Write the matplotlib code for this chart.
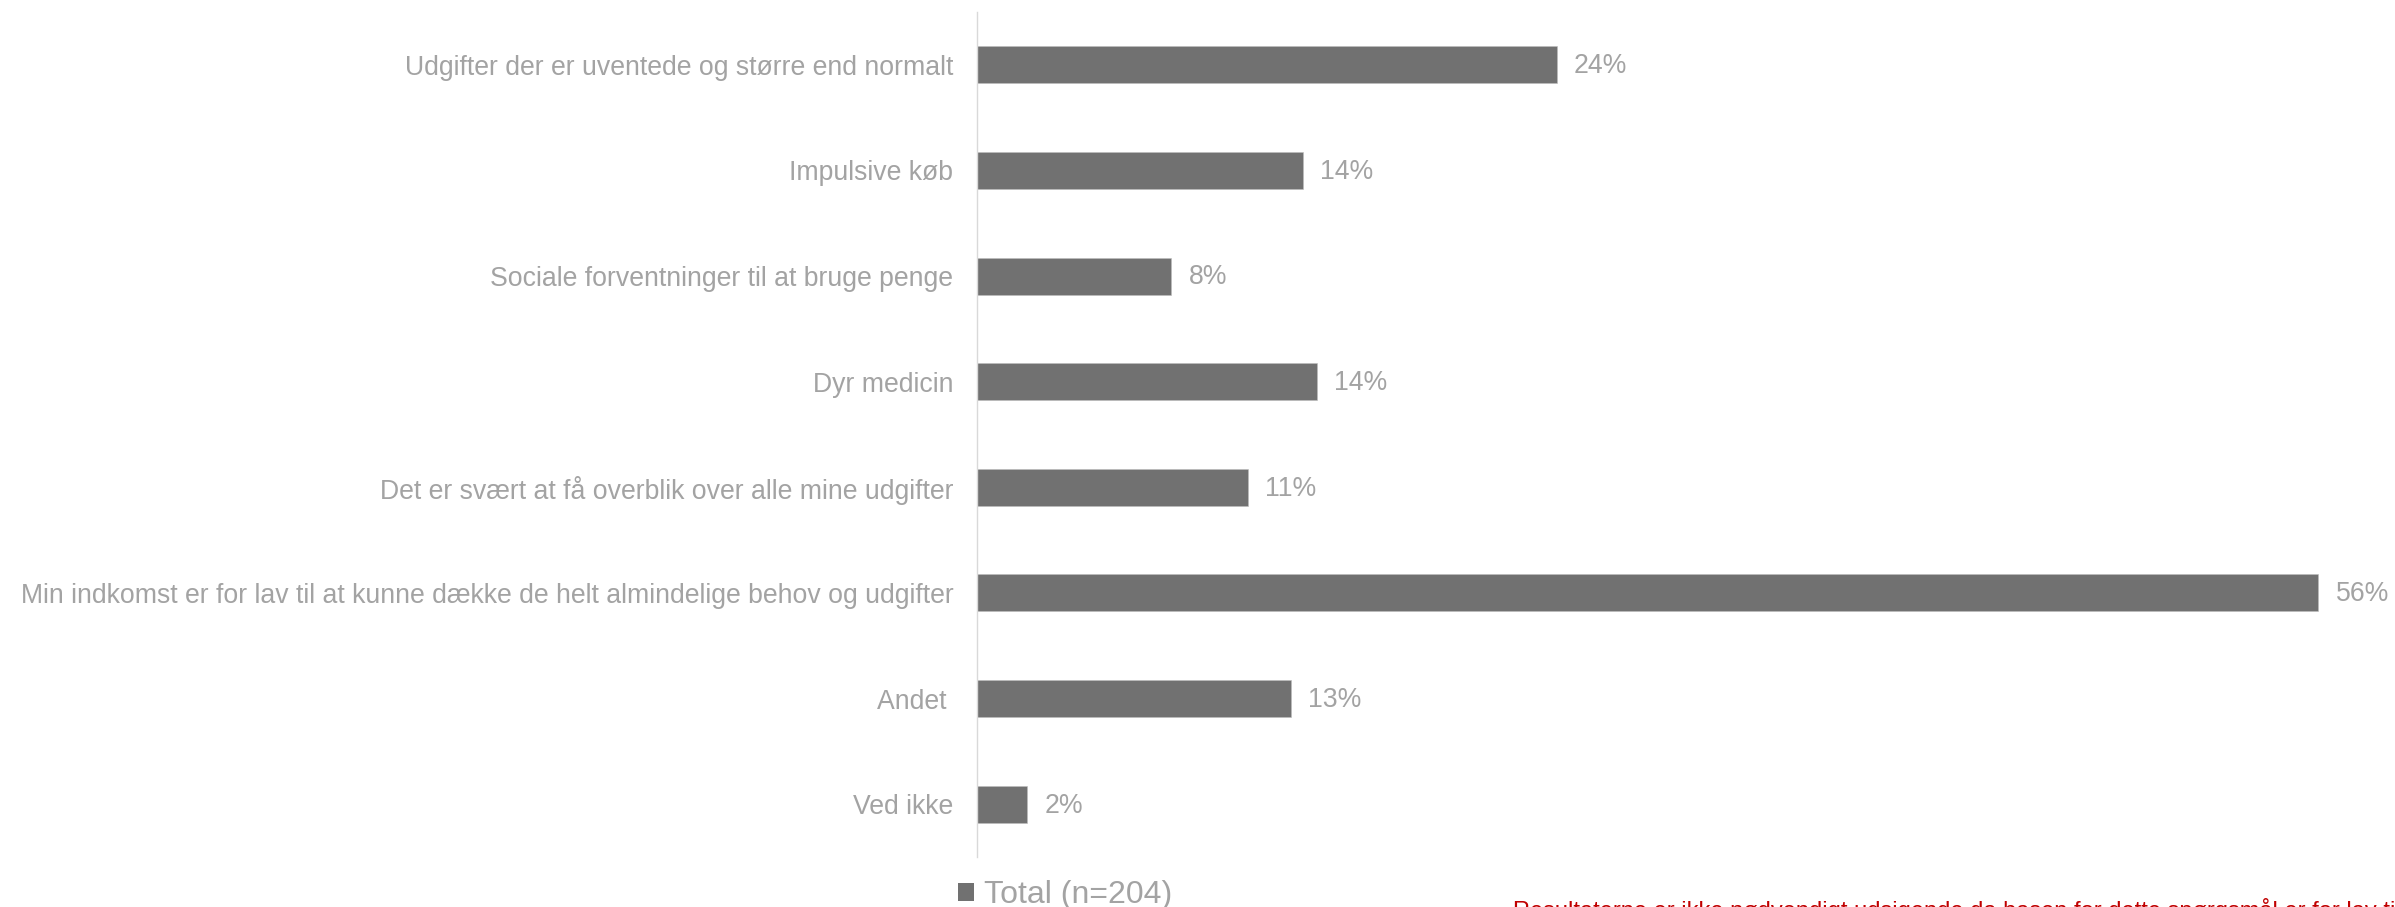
import matplotlib
matplotlib.use("Agg")
import matplotlib.pyplot as plt
from matplotlib.patches import Patch
import numpy as np

plt.rcParams["font.family"] = ["Liberation Sans", "DejaVu Sans"]

categories = [
    "Udgifter der er uventede og større end normalt",
    "Impulsive køb",
    "Sociale forventninger til at bruge penge",
    "Dyr medicin",
    "Det er svært at få overblik over alle mine udgifter",
    "Min indkomst er for lav til at kunne dække de helt almindelige behov og udgifter",
    "Andet ",
    "Ved ikke",
]
values = [24.2, 13.6, 8.1, 14.2, 11.3, 56.0, 13.1, 2.1]
series_name = "Total (n=204)"
note = ("Resultaterne er ikke nødvendigt udsigende da basen for dette "
        "spørgsmål er for lav til at drage konklusioner")

BAR = "#717171"
LABEL = "#a3a3a3"
W, H = 2395, 907

fig = plt.figure(figsize=(W / 100, H / 100), dpi=100)
ax = fig.add_axes([977 / W, 50 / H, (W - 977) / W, 845 / H])

y = np.arange(len(categories))
ax.barh(y, values, height=0.35, color=BAR, edgecolor="#bdbdbd", linewidth=0.4)

ax.set_xlim(0, 59.2)
ax.set_ylim(len(categories) - 0.5, -0.5)

for s in ("top", "right", "bottom"):
    ax.spines[s].set_visible(False)
ax.spines["left"].set_color("#d9d9d9")
ax.spines["left"].set_linewidth(1.0)
ax.set_xticks([])
ax.set_yticks(y)
ax.set_yticklabels(categories, fontsize=19.2, color=LABEL)
ax.tick_params(axis="y", length=0, pad=17)

for yi, v in zip(y, values):
    ax.annotate(f"{v:.0f}%", xy=(v, yi), xytext=(12.5, -1),
                textcoords="offset points", va="center", ha="left",
                fontsize=19.2, color=LABEL)

fig.legend(handles=[Patch(facecolor=BAR, label=series_name)],
           loc="center", bbox_to_anchor=(1065 / W, 1 - 895 / H),
           frameon=False, fontsize=23, labelcolor=LABEL,
           handlelength=0.5, handleheight=0.5, handletextpad=0.3,
           borderpad=0, borderaxespad=0)

fig.text(1513 / W, 1 - 918 / H, note, fontsize=17, color="#c00000",
         ha="left", va="baseline")

fig.savefig("out.png", dpi=100)
